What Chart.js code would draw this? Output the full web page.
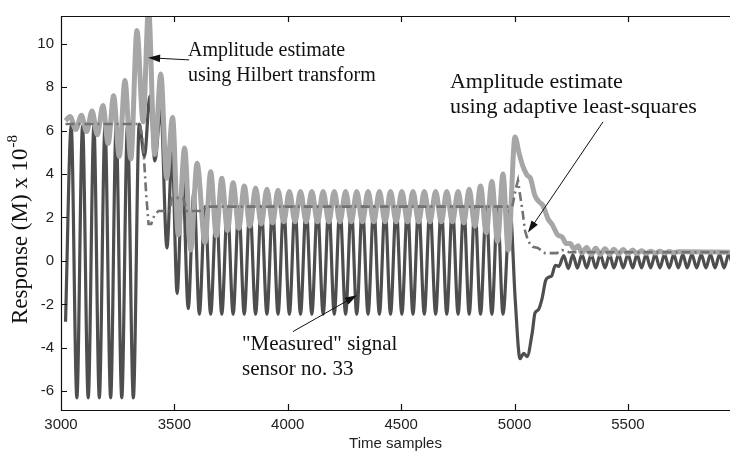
<!DOCTYPE html>
<html>
<head>
<meta charset="utf-8" />
<title>Response vs time samples</title>
<script src="https://cdn.jsdelivr.net/npm/chart.js@4.4.0/dist/chart.umd.min.js"></script>
<style>
  html, body { margin: 0; padding: 0; background: #fff; }
  #chart { display: block; }
</style>
</head>
<body>
<canvas id="chart" width="730" height="456"></canvas>
<script>
// ---- data ----
var xTicks = [3000, 3500, 4000, 4500, 5000, 5500];
var yTicks = [-6, -4, -2, 0, 2, 4, 6, 8, 10];

// "Measured" signal, sensor no. 33 (dark line): peaks and troughs
var signalT = [3020, 3045, 3070, 3095, 3120, 3145, 3169, 3194, 3219, 3243, 3268, 3293, 3319,
  3345, 3368, 3392, 3414, 3440, 3467, 3490, 3512, 3536, 3561, 3586,
  3610, 3635, 3660, 3685, 3709, 3734, 3759, 3784, 3808, 3833, 3858, 3883, 3908, 3933, 3957, 3982,
  4007, 4032, 4056, 4081, 4106, 4131, 4156, 4181, 4205, 4230, 4255, 4280, 4304, 4329, 4354, 4379,
  4404, 4429, 4453, 4478, 4503, 4528, 4552, 4577, 4602, 4627, 4652, 4677, 4701, 4726, 4751, 4776,
  4800, 4825, 4850, 4875, 4900, 4925, 4949, 4980,
  5003, 5024, 5040, 5055, 5078, 5090, 5105, 5122, 5137, 5150, 5163, 5180, 5195,
  5217, 5237, 5257, 5277, 5297, 5318, 5338, 5358, 5378, 5399, 5419, 5438, 5459, 5479, 5500, 5521,
  5540, 5560, 5580, 5600, 5620, 5641, 5661, 5682, 5702, 5722, 5742, 5761, 5782, 5803, 5823, 5844,
  5864, 5884, 5904, 5924, 5944, 5964];
var signalV = [-2.8, 6.2, -6.3, 6.2, -6.3, 6.2, -6.3, 6.2, -6.3, 6.2, -6.3, 6.2, -6.3,
  6.3, 4.8, 7.6, 4.6, 7.0, 0.6, 5.0, -1.5, 4.0, -2.2, 3.2,
  -2.45, 2.5, -2.45, 2.5, -2.45, 2.5, -2.45, 2.5, -2.45, 2.5, -2.45, 2.5, -2.45, 2.5, -2.45, 2.5,
  -2.45, 2.5, -2.45, 2.5, -2.45, 2.5, -2.45, 2.5, -2.45, 2.5, -2.45, 2.5, -2.45, 2.5, -2.45, 2.5,
  -2.45, 2.5, -2.45, 2.5, -2.45, 2.5, -2.45, 2.5, -2.45, 2.5, -2.45, 2.5, -2.45, 2.5, -2.45, 2.5,
  -2.45, 2.5, -2.45, 2.5, -2.45, 2.5, -2.45, 2.4,
  -1.8, -4.5, -4.25, -4.4, -3.3, -2.4, -2.25, -1.7, -0.9, -0.75, -0.7, -0.2, -0.25,
  0.25, -0.35, 0.28, -0.33, 0.3, -0.32, 0.3, -0.32, 0.3, -0.32, 0.3, -0.32, 0.3, -0.32, 0.3, -0.32,
  0.3, -0.32, 0.3, -0.32, 0.3, -0.32, 0.3, -0.32, 0.3, -0.32, 0.3, -0.32, 0.3, -0.32, 0.3, -0.32,
  0.3, -0.32, 0.3, -0.32, 0.3, -0.32];

// amplitude estimate using Hilbert transform (light grey line)
var hilbertT = [3020, 3040, 3065, 3090, 3113, 3137, 3160, 3185, 3208, 3232, 3257, 3282, 3308,
  3335, 3362, 3386, 3413, 3440, 3466, 3492, 3517, 3545, 3572, 3600,
  3635, 3660, 3685, 3709, 3734, 3759, 3784, 3808, 3833, 3858, 3883, 3908, 3933, 3957, 3982,
  4007, 4032, 4056, 4081, 4106, 4131, 4156, 4181, 4205, 4230, 4255, 4280, 4304, 4329, 4354, 4379,
  4404, 4429, 4453, 4478, 4503, 4528, 4552, 4577, 4602, 4627, 4652, 4677, 4701, 4726,
  4751, 4776, 4800, 4825, 4850, 4875, 4900, 4925, 4949, 4972,
  5002, 5020, 5037, 5055, 5070, 5090, 5110, 5125, 5147, 5167, 5190, 5210, 5228, 5245, 5262, 5280, 5297,
  5318, 5338, 5358, 5378, 5399, 5419, 5438, 5459, 5479, 5500, 5521, 5540, 5560, 5580, 5600, 5620,
  5641, 5661, 5682, 5702, 5722, 5960];
var hilbertV = [6.45, 6.65, 6.05, 6.7, 5.95, 6.9, 5.8, 7.15, 5.4, 7.6, 4.8, 8.3, 4.7,
  10.6, 6.4, 11.6, 4.9, 8.6, 3.8, 6.6, 1.2, 5.2, 0.5, 4.5,
  0.85, 4.1, 1.15, 3.8, 1.4, 3.6, 1.5, 3.45, 1.6, 3.35, 1.7, 3.3, 1.75, 3.25, 1.8,
  3.2, 1.8, 3.2, 1.8, 3.2, 1.8, 3.2, 1.8, 3.2, 1.8, 3.2, 1.8, 3.2, 1.8, 3.2, 1.8,
  3.2, 1.8, 3.2, 1.8, 3.2, 1.8, 3.2, 1.8, 3.2, 1.8, 3.2, 1.8, 3.2, 1.8,
  3.2, 1.75, 3.3, 1.6, 3.45, 1.3, 3.65, 0.9, 4.0, 0.5,
  5.7, 4.95, 4.35, 3.95, 3.8, 3.0, 2.7, 2.55, 1.95, 1.65, 1.2, 1.1, 0.8, 0.8, 0.55, 0.7, 0.36,
  0.62, 0.3, 0.58, 0.3, 0.56, 0.3, 0.54, 0.32, 0.52, 0.33, 0.5, 0.34, 0.47, 0.35, 0.45, 0.36,
  0.44, 0.37, 0.43, 0.38, 0.42, 0.4];

// amplitude estimate using adaptive least-squares (dash-dot line)
var lsT = [3020, 3348, 3362, 3376, 3386, 3398, 3412, 3430, 3480, 3489, 3538, 3555, 3626, 3640,
  4990, 5005, 5015, 5022, 5035, 5046, 5060, 5080, 5103, 5134, 5187, 5209, 5240, 5960];
var lsV = [6.3, 6.3, 5.4, 3.0, 1.7, 1.7, 2.1, 2.3, 2.3, 2.9, 2.9, 2.3, 2.3, 2.5,
  2.5, 3.3, 3.7, 3.2, 2.3, 1.4, 0.9, 0.65, 0.6, 0.36, 0.36, 0.5, 0.4, 0.4];

// text arrows: label lines, font size, label anchor, arrow tail and tip (data coords)
var noteText = [
  ['Amplitude estimate', 'using Hilbert transform'],
  ['Amplitude estimate', 'using adaptive least-squares'],
  ['"Measured" signal', 'sensor no. 33']
];
var noteSize = [20, 22, 21];
var noteAt = [[3560, 9.45], [4715, 7.95], [3798, -4.12]];
var noteFrom = [[3565, 9.25], [5390, 6.4], [4023, -3.25]];
var noteTo = [[3384, 9.35], [5059, 1.31], [4305, -1.58]];

var yTitle = 'Response (M) x 10';
var yTitleExp = '-8';

function pts(t, v) {
  return t.map(function (x, i) { return { x: x, y: v[i] }; });
}

var serif = '"Liberation Serif", "Times New Roman", serif';
var sans = '"Liberation Sans", Arial, sans-serif';

// MATLAB-like box with inward ticks, the y label with its exponent, and the text arrows
var framePlugin = {
  id: 'frame',
  afterDatasetsDraw: function (chart) {
    var ctx = chart.ctx, a = chart.chartArea;
    var xs = chart.scales.x, ys = chart.scales.y;
    ctx.save();
    ctx.strokeStyle = '#111';
    ctx.lineWidth = 1.2;
    ctx.beginPath();
    ctx.moveTo(a.right, a.top + 0.5); ctx.lineTo(a.left + 0.5, a.top + 0.5);
    ctx.lineTo(a.left + 0.5, a.bottom + 0.5); ctx.lineTo(a.right, a.bottom + 0.5);
    xTicks.forEach(function (v) {
      var px = Math.round(xs.getPixelForValue(v)) + 0.5;
      ctx.moveTo(px, a.bottom); ctx.lineTo(px, a.bottom - 6);
      ctx.moveTo(px, a.top); ctx.lineTo(px, a.top + 6);
    });
    yTicks.forEach(function (v) {
      var py = Math.round(ys.getPixelForValue(v)) + 0.5;
      ctx.moveTo(a.left, py); ctx.lineTo(a.left + 6, py);
    });
    ctx.stroke();

    ctx.fillStyle = '#111';
    ctx.textBaseline = 'alphabetic';

    // y axis title, rotated, with raised exponent
    ctx.save();
    ctx.translate(27, (a.top + a.bottom) / 2 + 17);
    ctx.rotate(-Math.PI / 2);
    ctx.font = '23px ' + serif;
    var w1 = ctx.measureText(yTitle).width;
    ctx.font = '15px ' + serif;
    var w2 = ctx.measureText(yTitleExp).width;
    var x0 = -(w1 + w2) / 2;
    ctx.font = '23px ' + serif;
    ctx.fillText(yTitle, x0, 0);
    ctx.font = '15px ' + serif;
    ctx.fillText(yTitleExp, x0 + w1 + 1, -10);
    ctx.restore();

    noteText.forEach(function (lines, i) {
      ctx.font = noteSize[i] + 'px ' + serif;
      var tx = xs.getPixelForValue(noteAt[i][0]);
      var ty = ys.getPixelForValue(noteAt[i][1]);
      lines.forEach(function (s, k) { ctx.fillText(s, tx, ty + k * 25); });

      var ax = xs.getPixelForValue(noteFrom[i][0]), ay = ys.getPixelForValue(noteFrom[i][1]);
      var bx = xs.getPixelForValue(noteTo[i][0]), by = ys.getPixelForValue(noteTo[i][1]);
      var ang = Math.atan2(by - ay, bx - ax), len = 12, half = 3.8;
      ctx.lineWidth = 1;
      ctx.beginPath();
      ctx.moveTo(ax, ay);
      ctx.lineTo(bx - Math.cos(ang) * len * 0.8, by - Math.sin(ang) * len * 0.8);
      ctx.stroke();
      ctx.beginPath();
      ctx.moveTo(bx, by);
      ctx.lineTo(bx - Math.cos(ang) * len - Math.sin(ang) * half, by - Math.sin(ang) * len + Math.cos(ang) * half);
      ctx.lineTo(bx - Math.cos(ang) * len + Math.sin(ang) * half, by - Math.sin(ang) * len - Math.cos(ang) * half);
      ctx.closePath();
      ctx.fill();
    });
    ctx.restore();
  }
};

new Chart(document.getElementById('chart'), {
  type: 'line',
  data: {
    datasets: [
      {
        label: 'Amplitude estimate using adaptive least-squares',
        data: pts(lsT, lsV),
        borderColor: '#727272',
        borderWidth: 2.6,
        borderDash: [9, 4, 2, 4],
        tension: 0,
        pointRadius: 0,
        order: 0
      },
      {
        label: 'Amplitude estimate using Hilbert transform',
        data: pts(hilbertT, hilbertV),
        borderColor: '#a6a6a6',
        borderWidth: 5,
        cubicInterpolationMode: 'monotone',
        pointRadius: 0,
        order: 1
      },
      {
        label: '"Measured" signal sensor no. 33',
        data: pts(signalT, signalV),
        borderColor: '#4e4e4e',
        borderWidth: 3.2,
        cubicInterpolationMode: 'monotone',
        pointRadius: 0,
        order: 2
      }
    ]
  },
  options: {
    responsive: false,
    animation: false,
    layout: { padding: { top: 9, right: 0, left: 0, bottom: 0 } },
    plugins: { legend: { display: false }, tooltip: { enabled: false } },
    scales: {
      x: {
        type: 'linear',
        min: 3000,
        max: 5950,
        afterBuildTicks: function (s) { s.ticks = xTicks.map(function (v) { return { value: v }; }); },
        afterFit: function (s) { s.height = 46; },
        grid: { display: false, drawTicks: false },
        border: { display: false },
        ticks: {
          color: '#222', font: { family: sans, size: 15 }, padding: 6, maxRotation: 0,
          callback: function (v) { return String(v); }
        },
        title: { display: true, text: 'Time samples', color: '#222', font: { family: sans, size: 15 }, padding: { top: 0, bottom: 3 } }
      },
      y: {
        min: -6.86,
        max: 11.27,
        afterBuildTicks: function (s) { s.ticks = yTicks.map(function (v) { return { value: v }; }); },
        afterFit: function (s) { s.width = 61; },
        grid: { display: false, drawTicks: false },
        border: { display: false },
        ticks: { color: '#222', font: { family: sans, size: 15 }, padding: 7 }
      }
    }
  },
  plugins: [framePlugin]
});
</script>
</body>
</html>
